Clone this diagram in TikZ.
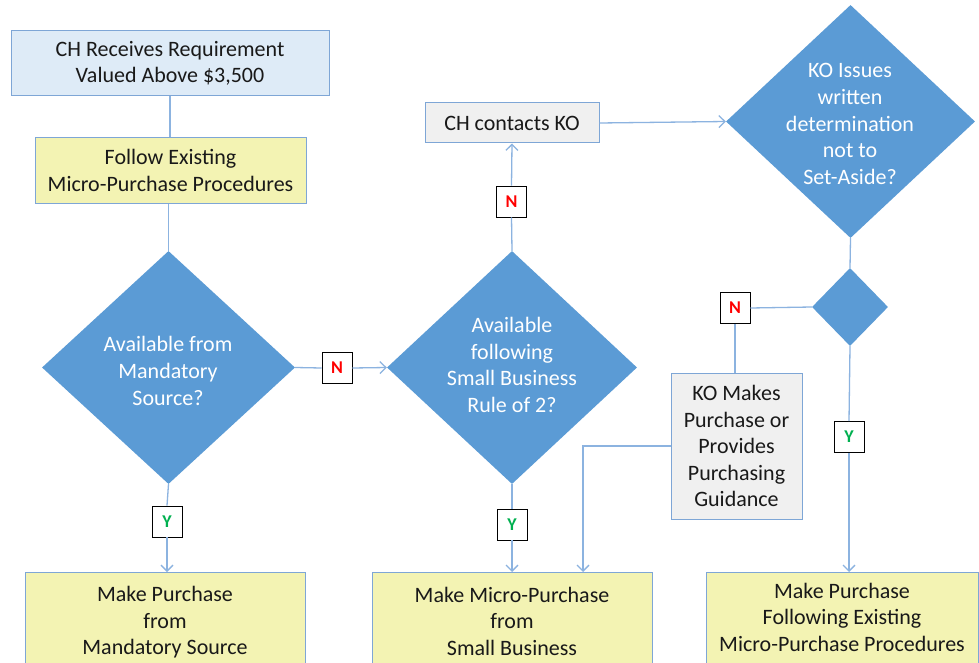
\documentclass[tikz,border=0pt]{standalone}
\usepackage{fontspec}
\setmainfont{Carlito}
\usetikzlibrary{shapes.geometric,arrows.meta}
\definecolor{lineblue}{HTML}{8CB3E0}
\definecolor{borderblue}{HTML}{7EA6D6}
\definecolor{diafill}{HTML}{5B9BD5}
\definecolor{lightblue}{HTML}{DEEBF7}
\definecolor{paleyellow}{HTML}{F3F3B3}
\definecolor{palegray}{HTML}{F0F0F0}
\definecolor{ngreen}{HTML}{00B050}
\definecolor{nred}{HTML}{FF0000}
\begin{document}
\begin{tikzpicture}[x=1pt,y=-1pt,
  txt/.style={font=\fontsize{22}{26.5}\selectfont, align=center, text=black!90},
  box/.style={txt, draw=borderblue, line width=1pt, inner sep=0pt, minimum width=#1},
  dia/.style={diamond, fill=diafill, draw=none, inner sep=0pt},
  dtxt/.style={font=\fontsize{22}{26.8}\selectfont, align=center, text=white, inner sep=0pt},
  lab/.style={draw=black, fill=white, line width=0.8pt, minimum width=30pt, minimum height=31pt, inner sep=0pt, font=\fontsize{18}{18}\bfseries\selectfont},
  conn/.style={draw=lineblue, line width=1.3pt},
  arr/.style={-{Straight Barb[length=6pt,width=12pt]}}
]
\clip (0,0) rectangle (979,663);
\fill[white] (0,0) rectangle (979,663);

\node[box=318pt, minimum height=65pt, fill=lightblue] (start) at (170,63.5) {CH Receives Requirement\\Valued Above \$3,500};
\node[box=271pt, minimum height=65pt, fill=paleyellow] (follow) at (170.5,170.5) {Follow Existing\\Micro-Purchase Procedures};

\node[dia, minimum width=253pt, minimum height=233pt] (mand) at (168.5,367.5) {};
\node[dtxt] (mandtxt) at (168,371) {Available from\\Mandatory\\Source?};

\node[dia, minimum width=250pt, minimum height=233pt] (rule) at (512,367.5) {};
\node[dtxt] (ruletxt) at (512,365) {Available\\following\\Small Business\\Rule of 2?};

\node[box=174pt, minimum height=40pt, fill=palegray] (contact) at (512,123) {CH contacts KO};

\node[dia, minimum width=249pt, minimum height=233pt] (det) at (850.5,121.5) {};
\node[dtxt] (dettxt) at (850,124) {KO Issues\\written\\determination\\not to\\Set-Aside?};

\node[dia, minimum width=76pt, minimum height=78pt] (small) at (850,307) {};

\node[box=131pt, minimum height=146pt, fill=palegray] (komakes) at (736.5,446) {KO Makes\\Purchase or\\Provides\\Purchasing\\Guidance};

\node[box=280pt, minimum height=100pt, fill=paleyellow, anchor=north] (mpms) at (165,572) {Make Purchase\\from\\Mandatory Source};
\node[box=280pt, minimum height=97pt, fill=paleyellow, anchor=north] (mpsb) at (512,572) {Make Micro-Purchase\\from\\Small Business};
\node[box=272pt, minimum height=100pt, fill=paleyellow, anchor=north] (mpfe) at (842,572) {};
\node[txt, inner sep=0pt] (mpfetxt) at (842,617) {Make Purchase\\Following Existing\\Micro-Purchase Procedures};

\node[lab, text=nred] (n1) at (337,368) {N};
\node[lab, text=nred] (n2) at (511.5,201.5) {N};
\node[lab, text=nred] (n3) at (735,308) {N};
\node[lab, text=ngreen] (y1) at (167,521.5) {Y};
\node[lab, text=ngreen] (y2) at (512,524.5) {Y};
\node[lab, text=ngreen] (y3) at (849,437) {Y};

\coordinate (guide) at (583,572);

\draw[conn] (start.south) -- (start.south |- follow.north);
\draw[conn] (follow.south -| mand.north) -- (mand.north);
\draw[conn] (mand.east) -- (n1.west);
\draw[conn,arr] (n1.east) -- (rule.west);
\draw[conn] (rule.north) -- (n2.south);
\draw[conn,arr] (n2.north) -- (contact.south);
\draw[conn,arr] (contact.east) -- (det.west);
\draw[conn] (det.south) -- (small.north);
\draw[conn] (small.west) -- (n3.east);
\draw[conn] (n3.south) -- (n3.south |- komakes.north);
\draw[conn,arr] (komakes.west) -| (guide);
\draw[conn] (mand.south) -- (y1.north);
\draw[conn,arr] (y1.south) -- (y1 |- mpms.north);
\draw[conn] (rule.south) -- (y2.north);
\draw[conn,arr] (y2.south) -- (y2 |- mpsb.north);
\draw[conn] (small.south) -- (y3.north);
\draw[conn,arr] (y3.south) -- (y3 |- mpfe.north);
\end{tikzpicture}
\end{document}
